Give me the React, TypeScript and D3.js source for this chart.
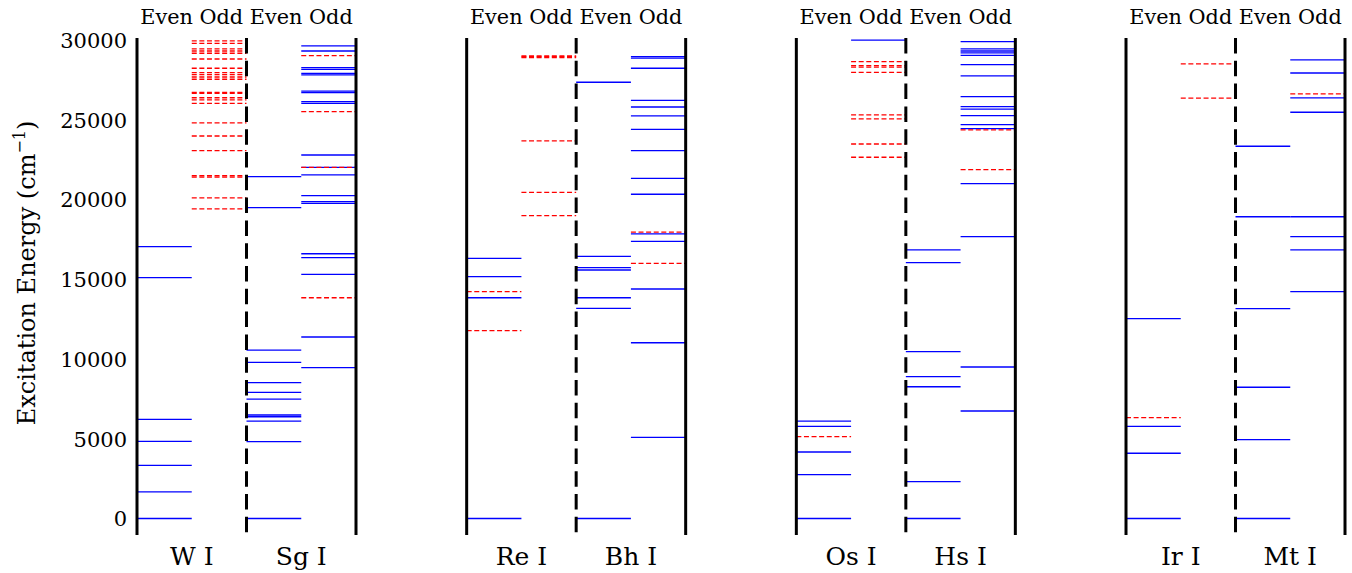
import React from "react";
import * as d3 from "d3";

// ---- data (excitation energies, cm^-1) ----
const elements = ["W I", "Sg I", "Re I", "Bh I", "Os I", "Hs I", "Ir I", "Mt I"];
const headerLabels = ["Even", "Odd", "Even", "Odd"];
const yTicks = [0, 5000, 10000, 15000, 20000, 25000, 30000];

// W I
const W_even_solid = [0, 1670, 3325, 4830, 6220, 15100, 17040];
const W_even_dashed: number[] = [];
const W_odd_solid: number[] = [];
const W_odd_dashed = [19410, 20100, 21400, 21490, 23060, 23980, 24800, 26030, 26240, 26380, 26650, 26720, 27540, 27680, 27830, 27950, 28230, 28810, 29170, 29310, 29440, 29790, 29940];
// Sg I
const Sg_even_solid = [0, 4820, 6110, 6380, 6490, 7490, 7910, 8520, 9790, 10560, 19490, 21430];
const Sg_even_dashed: number[] = [];
const Sg_odd_solid = [9460, 11380, 15310, 16350, 16600, 19760, 19870, 20240, 21540, 22020, 22790, 26030, 26140, 26700, 26800, 27810, 27910, 28160, 28270, 29310, 29630];
const Sg_odd_dashed = [13840, 22020, 25510, 29020];
// Re I
const Re_even_solid = [0, 13840, 15160, 16310];
const Re_even_dashed = [11780, 14220];
const Re_odd_solid: number[] = [];
const Re_odd_dashed = [18990, 20450, 23670, 28900, 28960, 29010];
// Bh I
const Bh_even_solid = [0, 13180, 13840, 15580, 15730, 16440, 27350];
const Bh_even_dashed: number[] = [];
const Bh_odd_solid = [5090, 11020, 14390, 17380, 17840, 20330, 21330, 23060, 24400, 25240, 25800, 26220, 28230, 28860, 28960];
const Bh_odd_dashed = [16000, 17960];
// Os I
const Os_even_solid = [0, 2750, 4170, 5780, 6110];
const Os_even_dashed = [5130];
const Os_odd_solid = [29990];
const Os_odd_dashed = [22650, 23480, 25050, 25300, 27970, 28300, 28390, 28640];
// Hs I
const Hs_even_solid = [0, 2310, 8260, 8890, 10460, 16040, 16840];
const Hs_even_dashed: number[] = [];
const Hs_odd_solid = [6740, 9500, 17670, 20990, 24440, 24690, 25260, 25660, 25820, 26450, 27750, 28450, 29040, 29190, 29310, 29440, 29900];
const Hs_odd_dashed = [21870, 24360];
// Ir I
const Ir_even_solid = [0, 4090, 5780, 12530];
const Ir_even_dashed = [6320];
const Ir_odd_solid: number[] = [];
const Ir_odd_dashed = [26350, 28500];
// Mt I
const Mt_even_solid = [0, 4950, 8230, 13160, 18920, 23340];
const Mt_even_dashed: number[] = [];
const Mt_odd_solid = [14220, 16840, 17670, 18920, 25470, 26370, 27930, 28750];
const Mt_odd_dashed = [26620];

// columns in order (16 columns, 4 per panel)
const columns = [
  { solid: W_even_solid, dashed: W_even_dashed },
  { solid: W_odd_solid, dashed: W_odd_dashed },
  { solid: Sg_even_solid, dashed: Sg_even_dashed },
  { solid: Sg_odd_solid, dashed: Sg_odd_dashed },
  { solid: Re_even_solid, dashed: Re_even_dashed },
  { solid: Re_odd_solid, dashed: Re_odd_dashed },
  { solid: Bh_even_solid, dashed: Bh_even_dashed },
  { solid: Bh_odd_solid, dashed: Bh_odd_dashed },
  { solid: Os_even_solid, dashed: Os_even_dashed },
  { solid: Os_odd_solid, dashed: Os_odd_dashed },
  { solid: Hs_even_solid, dashed: Hs_even_dashed },
  { solid: Hs_odd_solid, dashed: Hs_odd_dashed },
  { solid: Ir_even_solid, dashed: Ir_even_dashed },
  { solid: Ir_odd_solid, dashed: Ir_odd_dashed },
  { solid: Mt_even_solid, dashed: Mt_even_dashed },
  { solid: Mt_odd_solid, dashed: Mt_odd_dashed },
];

const W = 1352;
const H = 573;
const FONT = "'DejaVu Serif', serif";

export default function App() {
  const y = d3.scaleLinear().domain([0, 30000]).range([518.5, 40]);
  const panelX = d3.scaleLinear().domain([0, 4]).range([137, 137 + 4 * 329.67]);
  const panelW = 219;
  const colX = d3.scaleLinear().domain([0, 4]).range([0, panelW]);
  const yTop = 38;
  const yBot = 535;

  const panels = d3.range(4);

  return (
    <svg
      width={W}
      height={H}
      style={{ position: "absolute", left: 0, top: 0, background: "#fff" }}
      xmlns="http://www.w3.org/2000/svg"
    >
      <rect x={0} y={0} width={W} height={H} fill="#fff" />
      {/* y axis tick labels */}
      {yTicks.map((t) => (
        <text
          key={t}
          x={127}
          y={y(t)}
          dy="0.37em"
          textAnchor="end"
          fontFamily={FONT}
          fontSize={21}
          fill="#000"
        >
          {t}
        </text>
      ))}
      <text
        transform={`translate(35,${273}) rotate(-90)`}
        textAnchor="middle"
        fontFamily={FONT}
        fontSize={24}
        fill="#000"
      >
        Excitation Energy (cm
        <tspan dy={-10} fontSize={16}>−1</tspan>
        <tspan dy={10}>)</tspan>
      </text>

      {columns.map((c, i) => {
        const p = Math.floor(i / 4);
        const k = i % 4;
        const x1 = panelX(p) + colX(k);
        const x2 = panelX(p) + colX(k + 1);
        return (
          <g key={i}>
            {c.solid.map((v, j) => (
              <line key={"s" + j} x1={x1} x2={x2} y1={y(v)} y2={y(v)} stroke="#0000ff" strokeWidth={1.3} />
            ))}
            {c.dashed.map((v, j) => (
              <line
                key={"d" + j}
                x1={x1}
                x2={x2}
                y1={y(v)}
                y2={y(v)}
                stroke="#ff0000"
                strokeWidth={1.3}
                strokeDasharray="5,2.6"
              />
            ))}
          </g>
        );
      })}

      {panels.map((p) => {
        const x0 = panelX(p);
        return (
          <g key={p}>
            <line x1={x0} x2={x0} y1={yTop} y2={yBot} stroke="#000" strokeWidth={3} />
            <line x1={x0 + colX(2)} x2={x0 + colX(2)} y1={yTop} y2={yBot} stroke="#000" strokeWidth={3} strokeDasharray="15.5,7.3" />
            <line x1={x0 + panelW} x2={x0 + panelW} y1={yTop} y2={yBot} stroke="#000" strokeWidth={3} />
            <text
              x={x0 + panelW / 2}
              y={24}
              textAnchor="middle"
              fontFamily={FONT}
              fontSize={20.8}
              fill="#000"
            >
              {headerLabels.join(" ")}
            </text>
            <text x={x0 + colX(1)} y={565} textAnchor="middle" fontFamily={FONT} fontSize={25} fill="#000">
              {elements[p * 2]}
            </text>
            <text x={x0 + colX(3)} y={565} textAnchor="middle" fontFamily={FONT} fontSize={25} fill="#000">
              {elements[p * 2 + 1]}
            </text>
          </g>
        );
      })}
    </svg>
  );
}
